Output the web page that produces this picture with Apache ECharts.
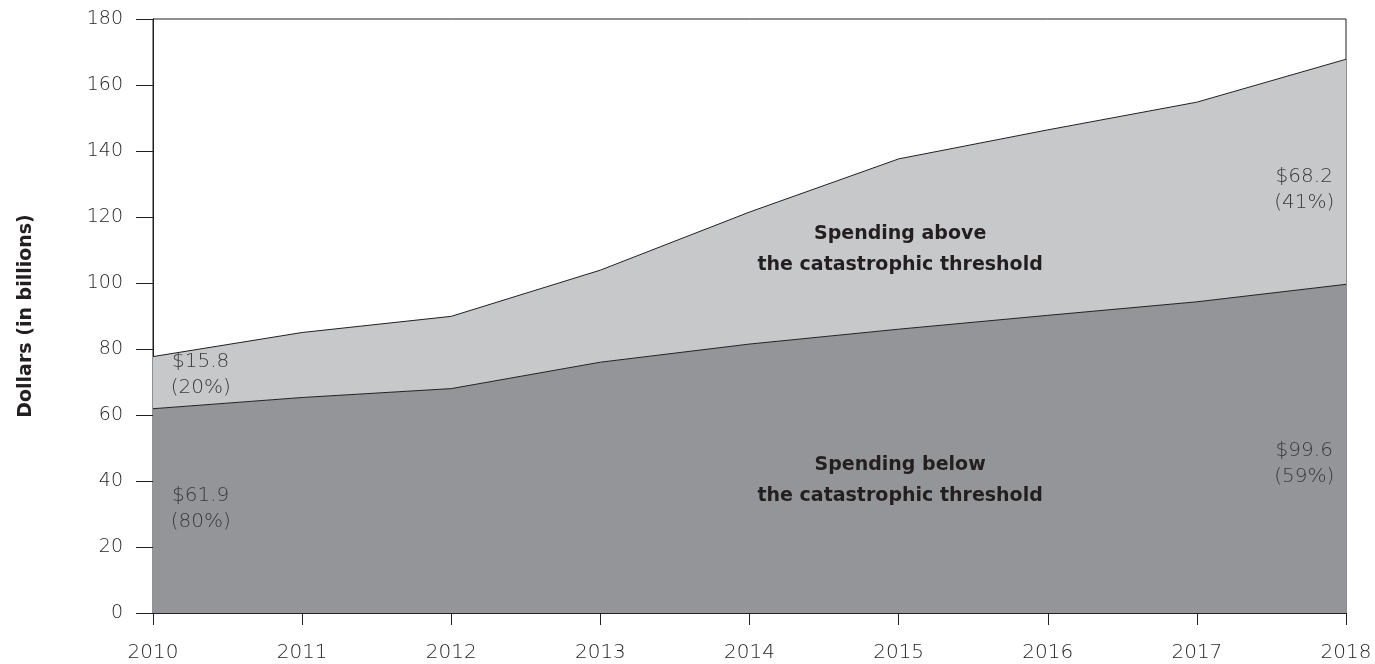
<!DOCTYPE html>
<html>
<head>
<meta charset="utf-8">
<script src="https://cdn.jsdelivr.net/npm/echarts@6/dist/echarts.min.js"></script>
<style>html,body{margin:0;padding:0;background:#fff}#c{width:1375px;height:664px}</style>
</head>
<body>
<div id="c"></div>
<script>
const years = ['2010', '2011', '2012', '2013', '2014', '2015', '2016', '2017', '2018'];
const belowValues = [61.9, 65.3, 68.0, 76.0, 81.5, 86.0, 90.2, 94.3, 99.6];
const aboveValues = [15.8, 19.7, 21.9, 27.9, 40.0, 51.6, 56.2, 60.5, 68.2];
const yTicks = [0, 20, 40, 60, 80, 100, 120, 140, 160, 180];

// annotations: text and data-space anchor (fractional category index, value)
const annoText = ['$15.8\n(20%)', '$61.9\n(80%)', '$68.2\n(41%)', '$99.6\n(59%)',
  'Spending above\nthe catastrophic threshold', 'Spending below\nthe catastrophic threshold'];
const annoIndex = [0.32, 0.32, 7.72, 7.72, 5.01, 5.01];
const annoValue = [72.2, 31.6, 128.2, 45.2, 110.0, 40.0];
const annoBold = [false, false, false, false, true, true];

const FONT = '"DejaVu Sans", sans-serif';
const INK = '#231f20';

const chart = echarts.init(document.getElementById('c'));
chart.setOption({
  animation: false,
  grid: {left: 153, right: 29, top: 19, bottom: 51, show: true, borderColor: INK, borderWidth: 1, backgroundColor: 'transparent'},
  xAxis: {
    type: 'category', data: years, boundaryGap: false,
    axisLine: {show: true, lineStyle: {color: INK, width: 1}},
    axisTick: {show: true, length: 12, lineStyle: {color: INK}},
    splitLine: {show: false},
    axisLabel: {color: INK, fontFamily: FONT, fontSize: 20, fontWeight: 200, margin: 30}
  },
  yAxis: {
    type: 'value', min: yTicks[0], max: yTicks[yTicks.length - 1], interval: 20,
    name: 'Dollars (in billions)', nameLocation: 'middle', nameGap: 117,
    nameTextStyle: {color: INK, fontFamily: FONT, fontSize: 19, fontWeight: 'bold'},
    axisLine: {show: true, lineStyle: {color: INK, width: 1}},
    axisTick: {show: true, length: 17, lineStyle: {color: INK}},
    splitLine: {show: false},
    axisLabel: {color: INK, fontFamily: FONT, fontSize: 19, fontWeight: 200, margin: 30}
  },
  series: [
    {
      name: 'Spending below', type: 'line', stack: 'total', symbol: 'none',
      data: belowValues,
      lineStyle: {color: INK, width: 1}, areaStyle: {color: '#939598', opacity: 1}
    },
    {
      name: 'Spending above', type: 'line', stack: 'total', symbol: 'none',
      data: aboveValues,
      lineStyle: {color: INK, width: 1}, areaStyle: {color: '#c7c8ca', opacity: 1}
    }
  ]
});

function toPixel(idx, val) {
  const i0 = Math.floor(idx), i1 = Math.min(i0 + 1, years.length - 1);
  const p0 = chart.convertToPixel({gridIndex: 0}, [i0, val]);
  const p1 = chart.convertToPixel({gridIndex: 0}, [i1, val]);
  return [p0[0] + (p1[0] - p0[0]) * (idx - i0), p0[1]];
}

const graphics = annoText.map((t, i) => {
  const p = toPixel(annoIndex[i], annoValue[i]);
  return {
    type: 'text', x: p[0], y: p[1], z: 10,
    style: {
      text: t, align: 'center', verticalAlign: 'middle',
      fill: annoBold[i] ? INK : '#3a3a3c',
      font: (annoBold[i] ? 'bold 19px ' : '200 20px ') + FONT,
      lineHeight: annoBold[i] ? 31 : 26
    }
  };
});
chart.setOption({graphic: graphics});
</script>
</body>
</html>
